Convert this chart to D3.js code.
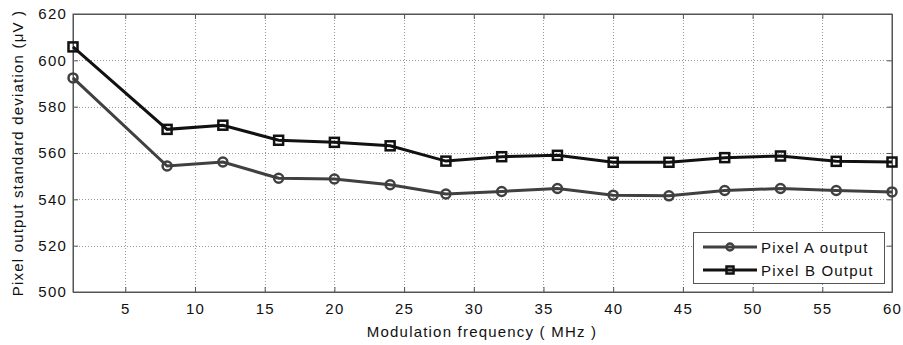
<!DOCTYPE html>
<html>
<head>
<meta charset="utf-8">
<script src="https://cdn.jsdelivr.net/npm/d3@7"></script>
<style>
  body { margin: 0; background: #fff; }
  text { font-family: "Liberation Sans", Arial, sans-serif; letter-spacing: 1.2px; }
</style>
</head>
<body>
<svg></svg>
<script>
// modulation frequency (MHz)
var freq = [1.25, 8, 12, 16, 20, 24, 28, 32, 36, 40, 44, 48, 52, 56, 60]
// std dev (uV)
var pixelA = [592.4, 554.4, 556.1, 549.1, 548.8, 546.3, 542.3, 543.4, 544.7, 541.8, 541.5, 543.8, 544.7, 543.8, 543.2]
var pixelB = [605.8, 570.2, 572, 565.5, 564.6, 563.1, 556.5, 558.4, 559, 556, 556, 558, 558.7, 556.4, 556.1]
var xTicks = [5, 10, 15, 20, 25, 30, 35, 40, 45, 50, 55, 60]
var yTicks = [500, 520, 540, 560, 580, 600, 620]
var seriesNames = ['Pixel A output', 'Pixel B Output']

var width = 903
var height = 345
var plotLeft = 73, plotRight = 892, plotTop = 14, plotBottom = 292

var svg = d3.select('svg')
  .attr('width', width)
  .attr('height', height)

var xScale = d3.scaleLinear()
  .domain([1.25, 60])
  .range([plotLeft, plotRight])

var yScale = d3.scaleLinear()
  .domain([500, 620])
  .range([plotBottom, plotTop])

// grid
svg.append('g')
  .selectAll('line')
  .data(xTicks.slice(0, -1))
  .enter()
  .append('line')
    .attr('x1', d => Math.round(xScale(d)) + 0.5)
    .attr('x2', d => Math.round(xScale(d)) + 0.5)
    .attr('y1', plotTop)
    .attr('y2', plotBottom)
    .attr('stroke', '#999')
    .attr('stroke-dasharray', '1,2')

svg.append('g')
  .selectAll('line')
  .data(yTicks.slice(1, -1))
  .enter()
  .append('line')
    .attr('x1', plotLeft)
    .attr('x2', plotRight)
    .attr('y1', d => Math.round(yScale(d)) + 0.5)
    .attr('y2', d => Math.round(yScale(d)) + 0.5)
    .attr('stroke', '#999')
    .attr('stroke-dasharray', '1,2')

// axes, ticks pointing inward on all four sides
svg.append('g')
  .attr('transform', 'translate(0,' + plotBottom + ')')
  .call(d3.axisBottom(xScale).tickValues(xTicks).tickSizeInner(-5).tickSizeOuter(0).tickPadding(11))

svg.append('g')
  .attr('transform', 'translate(0,' + plotTop + ')')
  .call(d3.axisTop(xScale).tickValues(xTicks).tickSizeInner(-5).tickSizeOuter(0).tickFormat(''))

svg.append('g')
  .attr('transform', 'translate(' + plotLeft + ',0)')
  .call(d3.axisLeft(yScale).tickValues(yTicks).tickSizeInner(-5).tickSizeOuter(0).tickPadding(6))

svg.append('g')
  .attr('transform', 'translate(' + plotRight + ',0)')
  .call(d3.axisRight(yScale).tickValues(yTicks).tickSizeInner(-5).tickSizeOuter(0).tickFormat(''))

svg.selectAll('.domain').attr('stroke', '#555')
svg.selectAll('.tick line').attr('stroke', '#555')
svg.selectAll('.tick text')
  .attr('fill', '#111')
  .style('font-size', '15px')
  .style('font-family', '"Liberation Sans", Arial, sans-serif')

// frame
svg.append('rect')
  .attr('x', plotLeft)
  .attr('y', plotTop)
  .attr('width', plotRight - plotLeft)
  .attr('height', plotBottom - plotTop)
  .attr('fill', 'none')
  .attr('stroke', '#555')

var line = d3.line()
  .x((d, i) => xScale(freq[i]))
  .y(d => yScale(d))

svg.append('path')
  .datum(pixelA)
  .attr('d', line)
  .attr('fill', 'none')
  .attr('stroke', '#404040')
  .attr('stroke-width', 3)

svg.append('path')
  .datum(pixelB)
  .attr('d', line)
  .attr('fill', 'none')
  .attr('stroke', '#111')
  .attr('stroke-width', 3)

svg.append('g')
  .selectAll('circle')
  .data(pixelA)
  .enter()
  .append('circle')
    .attr('cx', (d, i) => xScale(freq[i]))
    .attr('cy', d => yScale(d))
    .attr('r', 4.5)
    .attr('fill', 'none')
    .attr('stroke', '#404040')
    .attr('stroke-width', 2.5)

svg.append('g')
  .selectAll('rect')
  .data(pixelB)
  .enter()
  .append('rect')
    .attr('x', (d, i) => xScale(freq[i]) - 4.5)
    .attr('y', d => yScale(d) - 4.5)
    .attr('width', 9)
    .attr('height', 9)
    .attr('fill', 'none')
    .attr('stroke', '#111')
    .attr('stroke-width', 2.5)

// legend
var legend = svg.append('g')
legend.append('rect')
  .attr('x', 693.5)
  .attr('y', 232.5)
  .attr('width', 191)
  .attr('height', 51)
  .attr('fill', '#fff')
  .attr('stroke', '#555')

var legendColors = ['#404040', '#111']
seriesNames.forEach(function(name, i) {
  var ly = 247 + i * 23
  legend.append('line')
    .attr('x1', 703).attr('x2', 757)
    .attr('y1', ly).attr('y2', ly)
    .attr('stroke', legendColors[i])
    .attr('stroke-width', 3)
  if (i === 0) {
    legend.append('circle')
      .attr('cx', 730).attr('cy', ly).attr('r', 3.5)
      .attr('fill', 'none').attr('stroke', legendColors[i]).attr('stroke-width', 2.5)
  } else {
    legend.append('rect')
      .attr('x', 726.5).attr('y', ly - 3.5).attr('width', 7).attr('height', 7)
      .attr('fill', 'none').attr('stroke', legendColors[i]).attr('stroke-width', 2.5)
  }
  legend.append('text')
    .attr('x', 761)
    .attr('y', ly + 5.5)
    .style('font-size', '15px')
    .attr('fill', '#111')
    .text(name)
})

// axis titles
svg.append('text')
  .attr('x', 482)
  .attr('y', 337)
  .style('text-anchor', 'middle')
  .style('font-size', '15px')
  .attr('fill', '#111')
  .text('Modulation frequency ( MHz )')

svg.append('text')
  .attr('transform', 'rotate(-90)')
  .attr('x', -(plotTop + plotBottom) / 2)
  .attr('y', 23)
  .style('text-anchor', 'middle')
  .style('font-size', '15px')
  .attr('fill', '#111')
  .text('Pixel output standard deviation (\u03bcV )')
</script>
</body>
</html>
